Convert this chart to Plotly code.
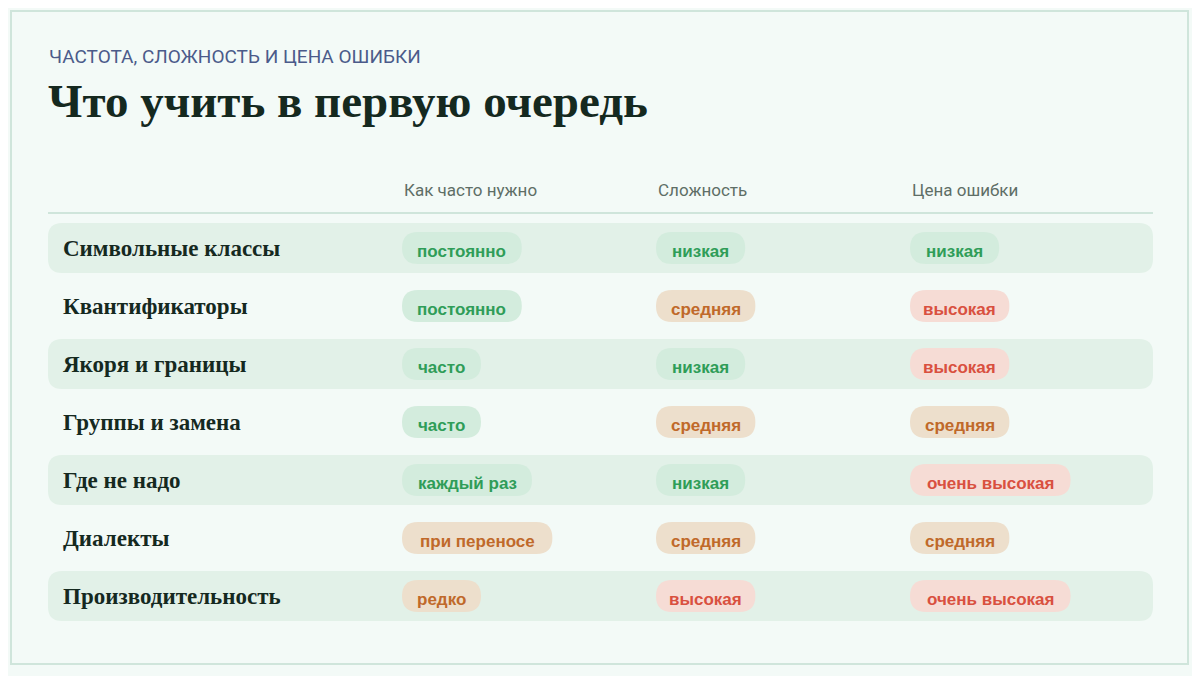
import plotly.graph_objects as go

subtitle = "ЧАСТОТА, СЛОЖНОСТЬ И ЦЕНА ОШИБКИ"
title = "Что учить в первую очередь"
columns = ["Как часто нужно", "Сложность", "Цена ошибки"]
rows = ["Символьные классы", "Квантификаторы", "Якоря и границы", "Группы и замена",
        "Где не надо", "Диалекты", "Производительность"]
frequency = ["постоянно", "постоянно", "часто", "часто", "каждый раз", "при переносе", "редко"]
difficulty = ["низкая", "средняя", "низкая", "средняя", "низкая", "средняя", "высокая"]
error_cost = ["низкая", "высокая", "высокая", "средняя", "очень высокая", "средняя", "очень высокая"]

tone = {"постоянно": "g", "часто": "g", "каждый раз": "g", "при переносе": "o", "редко": "o",
        "низкая": "g", "средняя": "o", "высокая": "r", "очень высокая": "r"}
fills = {"g": "#d3ecdd", "o": "#eddfcc", "r": "#f6dcd5"}
texts = {"g": "#2f9d58", "o": "#c0692a", "r": "#d9503f"}

def rrect(x0, y0, x1, y1, r):
    return (f"M{x0+r},{y0} L{x1-r},{y0} Q{x1},{y0} {x1},{y0+r} L{x1},{y1-r} Q{x1},{y1} {x1-r},{y1} "
            f"L{x0+r},{y1} Q{x0},{y1} {x0},{y1-r} L{x0},{y0+r} Q{x0},{y0} {x0+r},{y0} Z")

fig = go.Figure()
shapes, anns = [], []
shapes.append(dict(type="rect", x0=11, x1=1188, y0=11, y1=664, line=dict(color="#cfe5db", width=2),
                   fillcolor="#f3faf7", layer="below"))
shapes.append(dict(type="line", x0=48, x1=1153, y0=213, y1=213, line=dict(color="#cfe5db", width=2)))
anns.append(dict(x=47, y=56, text=subtitle, xanchor="left", yanchor="middle", showarrow=False,
                 font=dict(family="Roboto", size=19, color="#4b5a8a")))
anns.append(dict(x=46, y=101, text=f"<b>{title}</b>", xanchor="left", yanchor="middle", showarrow=False,
                 font=dict(family="Liberation Serif", size=47, color="#15291f")))
col_x = [402, 656, 910]
for cx, c in zip(col_x, columns):
    anns.append(dict(x=cx, y=190, text=c, xanchor="left", yanchor="middle", showarrow=False,
                     font=dict(family="Roboto", size=17, color="#5e6e66")))
for i, name in enumerate(rows):
    yc = 248 + 58 * i
    if i % 2 == 0:
        shapes.append(dict(type="path", path=rrect(48, yc - 25, 1153, yc + 25, 14),
                           fillcolor="#e2f1e8", line=dict(width=0), layer="below"))
    anns.append(dict(x=61, y=yc, text=f"<b>{name}</b>", xanchor="left", yanchor="middle", showarrow=False,
                     font=dict(family="Liberation Serif", size=23, color="#15291f")))
    for cx, val in zip(col_x, [frequency[i], difficulty[i], error_cost[i]]):
        t = tone[val]
        w = 10.2 * len(val) + 28
        shapes.append(dict(type="path", path=rrect(cx, yc - 16, cx + w, yc + 16, 16),
                           fillcolor=fills[t], line=dict(width=0), layer="below"))
        anns.append(dict(x=cx + w / 2, y=yc + 3, text=f"<b>{val}</b>", xanchor="center", yanchor="middle",
                         showarrow=False, font=dict(family="Liberation Sans", size=17, color=texts[t])))

fig.update_layout(width=1200, height=676, margin=dict(l=0, r=0, t=0, b=0),
                  paper_bgcolor="#f3faf7", plot_bgcolor="rgba(0,0,0,0)",
                  xaxis=dict(range=[8, 1208], visible=False, fixedrange=True),
                  yaxis=dict(range=[684, 8], visible=False, fixedrange=True),
                  shapes=shapes, annotations=anns, showlegend=False)
fig.write_html("out.html", config={"displayModeBar": False})
